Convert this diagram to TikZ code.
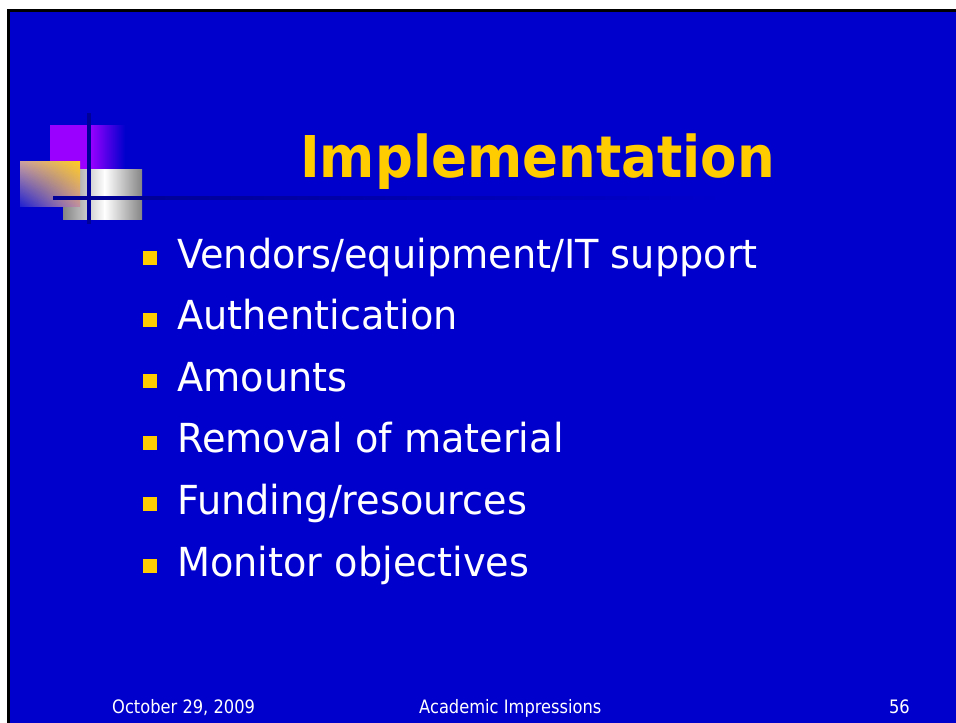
\documentclass[tikz,border=0pt]{standalone}
\usepackage{fontspec}
\usetikzlibrary{shadings}
\newfontfamily\titlefont[FakeStretch=0.92]{DejaVu Sans Bold}
\newfontfamily\bodyfont[FakeStretch=0.956]{DejaVu Sans}
\newfontfamily\footfont[FakeStretch=0.88]{DejaVu Sans}
\definecolor{slideblue}{HTML}{0000CC}
\definecolor{navy}{HTML}{000099}
\definecolor{ttlyellow}{HTML}{FFCC00}
\definecolor{purp}{HTML}{9900FF}
\definecolor{grayend}{HTML}{858585}
\definecolor{yll}{HTML}{2020D0}
\definecolor{yur}{HTML}{FFCC20}
\definecolor{yul}{HTML}{CCA0A0}
\definecolor{ylr}{HTML}{C4929E}
\tikzset{
  bodytext/.style={anchor=base west, inner sep=0pt, text=white, font=\bodyfont\fontsize{40}{48}\selectfont},
  foottext/.style={inner sep=0pt, text=white, font=\footfont\fontsize{18.5}{22}\selectfont},
  bulletsq/.style={fill=ttlyellow}
}
\begin{document}
\begin{tikzpicture}[x=1pt,y=-1pt]
\useasboundingbox (0,0) rectangle (956,723);
\fill[white] (0,0) rectangle (956,723);
% slide frame
\fill[black] (7,9) rectangle (956,723);
\fill[slideblue] (9.5,11.5) rectangle (956,723);
% decoration
\fill[purp] (50,125) rectangle (91,169);
\shade[left color=purp, right color=slideblue] (90.5,125) rectangle (125,169);
\shade[left color=grayend, right color=white] (63,169) rectangle (105,219);
\shade[left color=white, right color=grayend] (104.5,169) rectangle (142,219);
\shade[lower left=yll, upper right=yur, upper left=yul, lower right=ylr]
       (20,161) rectangle (80,206);
\fill[navy] (53,196) rectangle (160,199.5);
\shade[left color=navy, right color=slideblue] (159.5,196) rectangle (720,199.5);
\fill[navy] (87.3,113) rectangle (91,224);
% title
\node[anchor=base west, inner sep=0pt, text=ttlyellow, font=\titlefont\fontsize{57.6}{64}\selectfont] (title) at (300,177) {Implementation};
% bullets
\foreach \txt [count=\i from 0] in {Vendors/equipment/IT support, Authentication, Amounts, Removal of material, Funding/resources, Monitor objectives}{
  \pgfmathsetmacro{\bl}{268+61.6*\i}
  \fill[bulletsq] (143,\bl-17) rectangle (157,\bl-3);
  \node[bodytext] (item\i) at (177,\bl) {\txt};
}
% footer
\node[foottext, anchor=base west] (date) at (112,713) {October 29, 2009};
\node[foottext, anchor=base west] (org) at (419,713) {Academic Impressions};
\node[foottext, anchor=base east] (page) at (910,713) {56};
\end{tikzpicture}
\end{document}
